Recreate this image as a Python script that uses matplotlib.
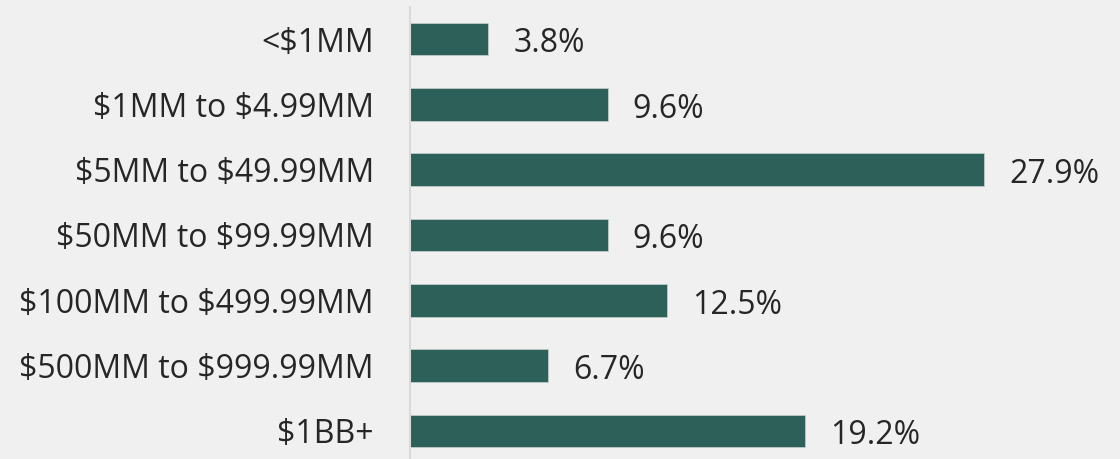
import matplotlib.pyplot as plt

categories = ["<$1MM", "$1MM to $4.99MM", "$5MM to $49.99MM", "$50MM to $99.99MM",
              "$100MM to $499.99MM", "$500MM to $999.99MM", "$1BB+"]
values = [3.8, 9.6, 27.9, 9.6, 12.5, 6.7, 19.2]

plt.rcParams['font.family'] = ['Open Sans', 'DejaVu Sans']
plt.rcParams['text.parse_math'] = False

W, H = 1120, 459
fig = plt.figure(figsize=(W / 100, H / 100), dpi=100, facecolor='#f0f0f0')
ax = fig.add_axes([410 / W, 0, 1 - 410 / W, 1 - 7 / H])
ax.set_facecolor('#f0f0f0')

ypos = list(range(len(categories)))
ax.barh(ypos, values, height=0.5, color='#2d6058', edgecolor='#c8d2cf', linewidth=0.5)
ax.set_ylim(6.43, -0.49)
ax.set_xlim(0, 34.5)

for y, v in zip(ypos, values):
    ax.annotate(f"{v}%", (v, y), xytext=(18, -3.5), textcoords='offset points',
                va='center', ha='left', fontsize=23, color='#262626')

ax.set_yticks(ypos)
ax.set_yticklabels(categories, fontsize=23, color='#262626')
ax.tick_params(axis='y', length=0, pad=26)
ax.set_xticks([])
for s in ['top', 'right', 'bottom']:
    ax.spines[s].set_visible(False)
ax.spines['left'].set_color('#d9d9d9')
ax.spines['left'].set_linewidth(1.5)

fig.savefig('out.png', dpi=100, facecolor=fig.get_facecolor())
